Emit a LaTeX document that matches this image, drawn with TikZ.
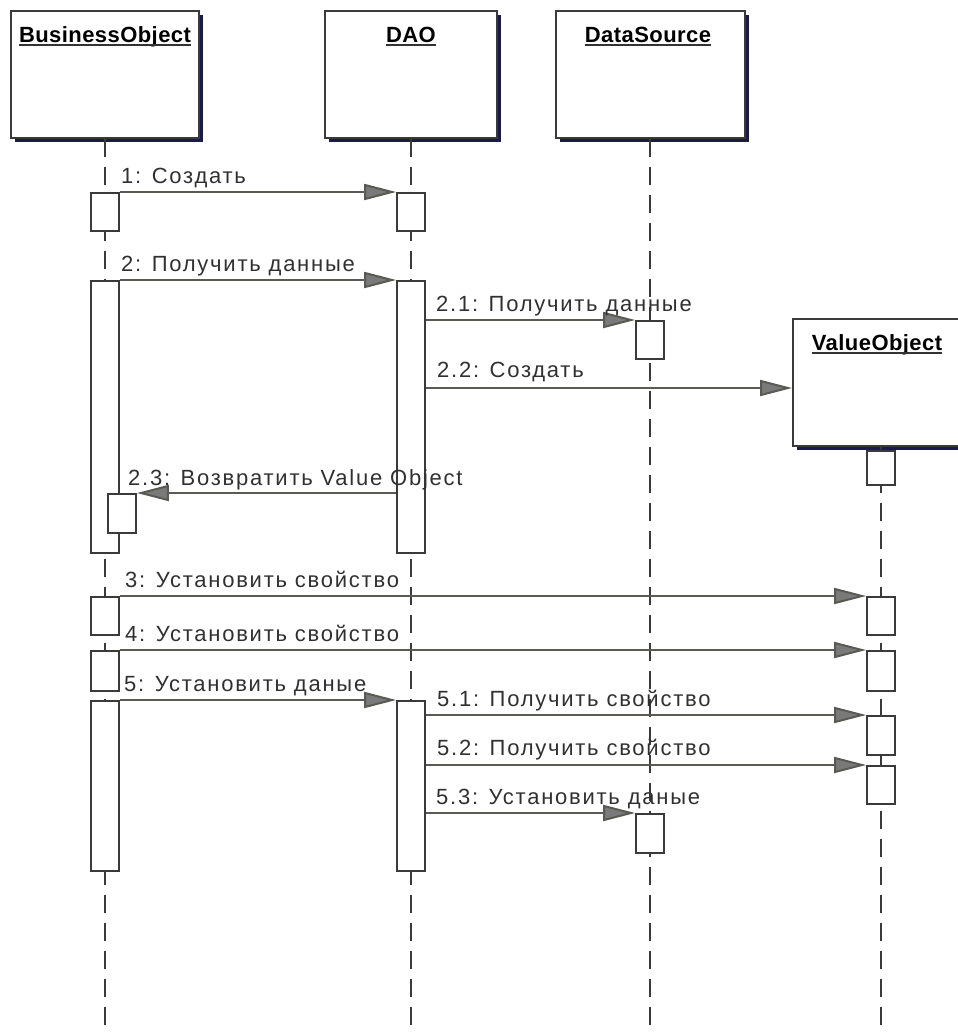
\documentclass[tikz,border=0pt]{standalone}
\usepackage{fontspec}
\setmainfont{Liberation Sans}
\newfontfamily\lblfont[LetterSpace=8]{Liberation Sans}
\newfontfamily\ttlfont[LetterSpace=2]{Liberation Sans}
\usetikzlibrary{arrows.meta,shadows}

\definecolor{ink}{HTML}{3A3A3A}
\definecolor{shade}{HTML}{1B1B4A}
\definecolor{msgline}{HTML}{5A5A55}
\definecolor{tipfill}{HTML}{7A7A7A}
\definecolor{txt}{HTML}{303030}

\tikzset{
  header/.style={draw=ink, line width=2pt, fill=white, inner sep=0pt,
    minimum height=127pt,
    drop shadow={shadow xshift=4pt, shadow yshift=-4pt, fill=shade, opacity=1}},
  ttl/.style={inner sep=0pt, text=black, font=\ttlfont\bfseries\fontsize{22}{26}\selectfont},
  life/.style={draw=ink, line width=2pt, dash pattern=on 18pt off 10pt},
  act/.style={draw=ink, line width=1.8pt, fill=white, minimum width=28pt,
    inner sep=0pt, anchor=north},
  msg/.style={draw=msgline, line width=2pt,
    -{Triangle[length=32pt,width=16pt,fill=tipfill]}},
  lbl/.style={inner sep=0pt, anchor=base west, text=txt,
    font=\lblfont\fontsize{22}{26}\selectfont},
}

\newcommand{\uline}[1]{\draw[line width=2pt, black!80] ([yshift=-3pt]#1.base west) -- ([yshift=-3pt]#1.base east);}

\begin{document}
\begin{tikzpicture}[x=1pt,y=-1pt]
\useasboundingbox (0,0) rectangle (958,1034);
\clip (0,0) rectangle (958,1034);

% object headers
\node[header, minimum width=188pt] (bo)  at (105,74)  {};
\node[header, minimum width=172pt] (dao) at (411,74)  {};
\node[header, minimum width=189pt] (ds)  at (650,74)  {};
\node[header, minimum width=176pt] (vo)  at (881,382) {};

\node[ttl, anchor=base] (tbo)  at (105,42)  {BusinessObject};
\node[ttl, anchor=base] (tdao) at (411,42)  {DAO};
\node[ttl, anchor=base] (tds)  at (648,42)  {DataSource};
\node[ttl, anchor=base] (tvo)  at (877,350) {ValueObject};
\uline{tbo}\uline{tdao}\uline{tds}\uline{tvo}

% lifelines
\coordinate (boE)  at (105,1034);
\coordinate (daoE) at (411,1034);
\coordinate (dsE)  at (650,1034);
\coordinate (voE)  at (881,1034);
\draw[life] (bo.south)  -- (boE);
\draw[life] (dao.south) -- (daoE);
\draw[life] (ds.south)  -- (dsE);
\draw[life] (vo.south)  -- (voE);

% activations: BusinessObject
\node[act, minimum height=38pt]  (bo1) at (105,192) {};
\node[act, minimum height=272pt] (bo2) at (105,280) {};
\node[act, minimum height=39pt]  (bon) at (122,493) {};
\node[act, minimum height=38pt]  (bo3) at (105,596) {};
\node[act, minimum height=40pt]  (bo4) at (105,650) {};
\node[act, minimum height=170pt] (bo5) at (105,700) {};
% activations: DAO
\node[act, minimum height=38pt]  (dao1) at (411,192) {};
\node[act, minimum height=272pt] (dao2) at (411,280) {};
\node[act, minimum height=170pt] (dao3) at (411,700) {};
% activations: DataSource
\node[act, minimum height=38pt] (ds1) at (650,320) {};
\node[act, minimum height=39pt] (ds2) at (650,813) {};
% activations: ValueObject
\node[act, minimum height=34pt] (vo1) at (881,450) {};
\node[act, minimum height=38pt] (vo2) at (881,596) {};
\node[act, minimum height=40pt] (vo3) at (881,650) {};
\node[act, minimum height=39pt] (vo4) at (881,715) {};
\node[act, minimum height=38pt] (vo5) at (881,765) {};

% messages
\coordinate (m22) at (600,388);
\draw[msg] (bo1.north east) -- (dao1.north west);
\draw[msg] (bo2.north east) -- (dao2.north west);
\draw[msg] (dao2.east |- ds1.north) -- (ds1.north west);
\draw[msg] (dao2.east |- m22) -- (vo.west |- m22);
\draw[msg] (dao2.west |- bon.north) -- (bon.north east);
\draw[msg] (bo3.north east) -- (vo2.north west);
\draw[msg] (bo4.north east) -- (vo3.north west);
\draw[msg] (bo5.north east) -- (dao3.north west);
\draw[msg] (dao3.east |- vo4.north) -- (vo4.north west);
\draw[msg] (dao3.east |- vo5.north) -- (vo5.north west);
\draw[msg] (dao3.east |- ds2.north) -- (ds2.north west);

% message labels
\node[lbl] (l1)  at (121,183) {1: Создать};
\node[lbl] (l2)  at (121,271) {2: Получить данные};
\node[lbl] (l21) at (436,311) {2.1: Получить данные};
\node[lbl] (l22) at (437,377) {2.2: Создать};
\node[lbl] (l23) at (128,485) {2.3: Возвратить Value Object};
\node[lbl] (l3)  at (125,587) {3: Установить свойство};
\node[lbl] (l4)  at (125,641) {4: Установить свойство};
\node[lbl] (l5)  at (124,691) {5: Установить даные};
\node[lbl] (l51) at (437,706) {5.1: Получить свойство};
\node[lbl] (l52) at (437,755) {5.2: Получить свойство};
\node[lbl] (l53) at (436,804) {5.3: Установить даные};
\end{tikzpicture}
\end{document}
